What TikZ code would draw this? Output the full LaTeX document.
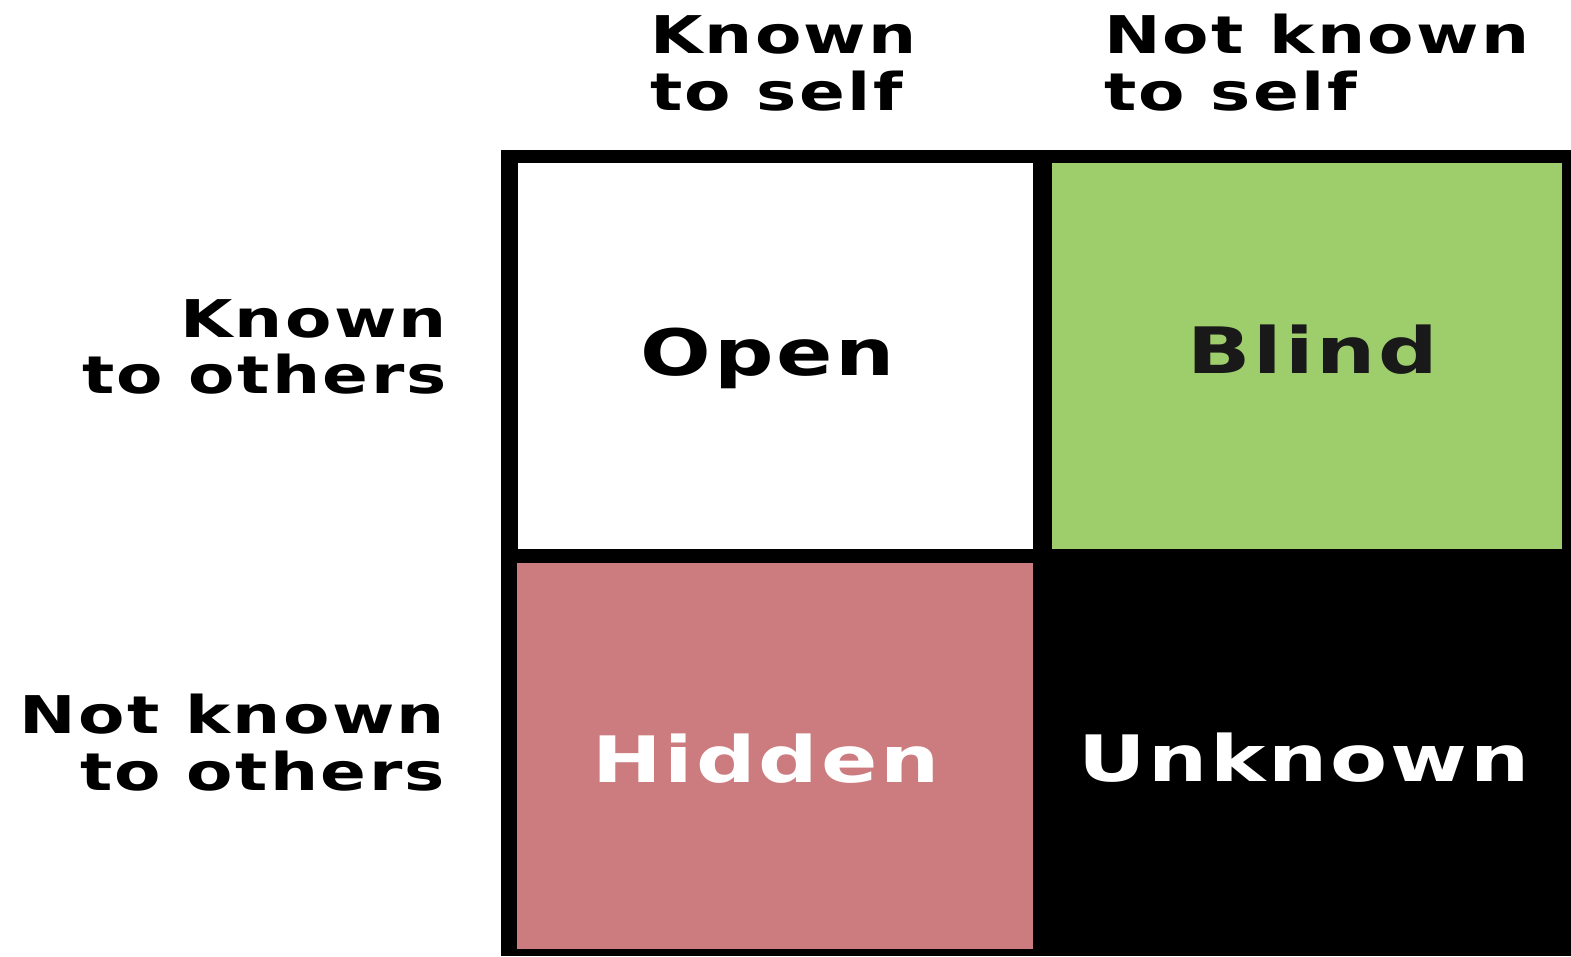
\documentclass[tikz,border=0pt]{standalone}
\usepackage{fontspec}
\setmainfont[FakeStretch=1.3,LetterSpace=4.5]{DejaVu Sans}
\definecolor{blindgreen}{RGB}{158,205,108}
\definecolor{hiddenpink}{RGB}{204,124,126}
\tikzset{
  lab/.style={font=\bfseries\fontsize{52}{57}\selectfont, inner sep=0pt, outer sep=0pt, text=black},
  big/.style={font=\bfseries\fontsize{64}{70}\selectfont, inner sep=0pt, outer sep=0pt},
  cell/.style={draw=none, inner sep=0pt, outer sep=0pt, anchor=north west}
}
\begin{document}
\begin{tikzpicture}[x=1pt,y=-1pt]
\useasboundingbox (0,0) rectangle (1571,956);
% frame
\node[cell, fill=black, minimum width=1070pt, minimum height=806pt] (frame) at (501,150) {};
% cells
\node[cell, fill=white, minimum width=515pt, minimum height=386pt] (opencell) at (518,163) {};
\node[cell, fill=blindgreen, minimum width=510pt, minimum height=386pt] (blindcell) at (1052,163) {};
\node[cell, fill=hiddenpink, minimum width=516pt, minimum height=386pt] (hiddencell) at (517,563) {};
% cell texts
\node[big, anchor=base, text=black] (open) at (768,375) {Open};
\node[big, anchor=base, text=black!90] (blind) at (1313,373) {Blind};
\node[big, anchor=base, text=white] (hidden) at (766,782) {Hidden};
\node[big, anchor=base, text=white] (unknown) at (1304,781) {Unknown};
% column headers
\node[lab, anchor=base west] (c1a) at (650,53) {Known};
\node[lab, anchor=base west] (c1b) at (650,110) {to self};
\node[lab, anchor=base west] (c2a) at (1104,53) {Not known};
\node[lab, anchor=base west] (c2b) at (1104,110) {to self};
% row headers
\node[lab, anchor=base east] (r1a) at (447,337) {Known};
\node[lab, anchor=base east] (r1b) at (447,393) {to others};
\node[lab, anchor=base east] (r2a) at (445,733) {Not known};
\node[lab, anchor=base east] (r2b) at (445,790) {to others};
\end{tikzpicture}
\end{document}
